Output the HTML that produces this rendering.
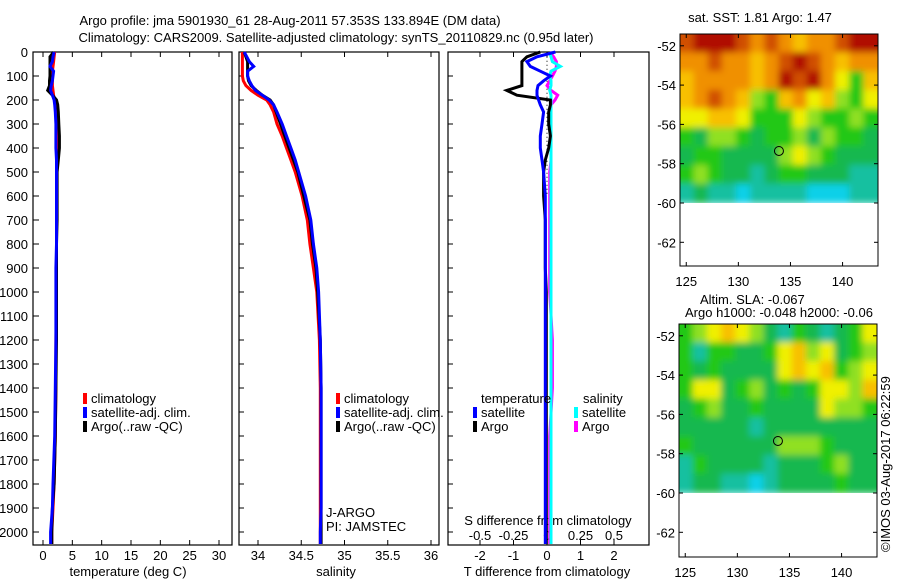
<!DOCTYPE html>
<html><head><meta charset="utf-8"><style>
body{margin:0;background:#fff;width:900px;height:580px;overflow:hidden}
svg text{font-family:"Liberation Sans",sans-serif;font-size:13px;fill:#000}
</style></head><body>
<svg id="c" width="900" height="580" xmlns="http://www.w3.org/2000/svg">
<defs>
<filter id="bl" filterUnits="userSpaceOnUse" x="670" y="20" width="220" height="540"><feGaussianBlur stdDeviation="3.5"/></filter>
<clipPath id="cp1"><rect x="680" y="34" width="198" height="169"/></clipPath>
<clipPath id="cp2"><rect x="679" y="324" width="198" height="169"/></clipPath>
</defs>
<text x="290" y="25" text-anchor="middle">Argo profile: jma 5901930_61 28-Aug-2011 57.353S 133.894E (DM data)</text>
<text x="336" y="42" text-anchor="middle">Climatology: CARS2009. Satellite-adjusted climatology: synTS_20110829.nc (0.95d later)</text>
</svg>
<script>
// ---- data ----
const depths=[0,20,40,60,80,100,120,140,160,180,200,220,250,300,350,400,450,500,600,700,800,900,1000,1200,1400,1600,1800,1900,2000,2050];
const tempClim=[2.0,1.9,1.8,1.7,1.6,1.6,1.6,1.6,1.7,1.8,2.0,2.2,2.3,2.3,2.3,2.3,2.3,2.3,2.3,2.3,2.3,2.3,2.3,2.2,2.2,2.1,1.9,1.7,1.5,1.5];
const tempSat=[1.9,1.7,1.6,1.2,1.8,1.7,1.6,1.4,1.3,1.6,1.9,2.0,2.1,2.2,2.2,2.2,2.3,2.3,2.3,2.3,2.3,2.2,2.2,2.2,2.1,2.0,1.7,1.6,1.3,1.3];
const tempArgo=[1.8,1.2,1.2,1.2,1.2,1.2,1.1,1.1,0.8,1.6,2.3,2.5,2.6,2.7,2.8,2.8,2.6,2.4,2.4,2.4,2.3,2.3,2.3,2.3,2.2,2.1,1.9,1.6,1.5,1.5];
const salClim=[33.82,33.82,33.82,33.82,33.82,33.82,33.83,33.86,33.92,34.0,34.1,34.14,34.18,34.22,34.28,34.33,34.38,34.43,34.51,34.57,34.6,34.64,34.68,34.71,34.72,34.72,34.72,34.72,34.72,34.72];
const salSat=[33.84,33.87,33.9,33.95,33.88,33.88,33.9,33.93,33.97,34.05,34.13,34.18,34.22,34.28,34.33,34.38,34.43,34.47,34.55,34.61,34.64,34.68,34.7,34.72,34.73,34.73,34.73,34.73,34.72,34.72];
const salArgo=[33.84,33.86,33.88,33.88,33.88,33.88,33.89,33.92,33.98,34.05,34.14,34.18,34.21,34.26,34.31,34.36,34.41,34.46,34.53,34.6,34.63,34.67,34.69,34.72,34.73,34.73,34.73,34.73,34.73,34.73];
const dTSat=[0.25,-0.3,-0.6,-0.5,-0.2,0.1,-0.1,-0.27,-0.3,-0.3,-0.25,-0.2,-0.1,-0.15,-0.2,-0.2,-0.15,-0.1,-0.05,-0.05,-0.05,-0.05,-0.05,-0.05,-0.05,-0.05,-0.05,-0.05,-0.05,-0.05];
const dTArgo=[-0.2,-0.6,-0.75,-0.75,-0.75,-0.75,-0.75,-0.75,-1.2,-0.9,0.1,0.1,0.05,0.05,0.1,0.05,-0.05,-0.1,-0.1,-0.05,-0.05,-0.05,-0.02,-0.02,-0.02,-0.02,-0.02,-0.02,-0.02,-0.02];
const dSSat=[0.02,0.03,0.04,0.1,0.03,0.02,0.03,0.03,0.02,0.03,0.03,0.03,0.03,0.03,0.03,0.03,0.03,0.03,0.03,0.03,0.03,0.03,0.03,0.03,0.03,0.03,0.03,0.03,0.03,0.03];
const dSArgo=[0.02,0.05,0.07,0.07,0.06,0.04,0.02,0.0,0.03,0.08,0.06,0.03,0.02,0.03,0.03,0.03,0.03,0.02,0.02,0.02,0.02,0.02,0.02,0.04,0.04,0.02,0.02,0.02,0.02,0.02];
const depthTicks=[0,100,200,300,400,500,600,700,800,900,1000,1100,1200,1300,1400,1500,1600,1700,1800,1900,2000];
const tempTicks=[0,5,10,15,20,25,30];
const salTicks=[34,34.5,35,35.5,36];
const dTTicks=[-2,-1,0,1,2];
const dSTicks=[-0.5,-0.25,0,0.25,0.5];
const sstGrid=[
[8,9,9,9,8,7,8,7,6,7,7,8,9,9],
[7,7,8,7,7,6,7,8,9,8,7,6,7,7],
[6,7,7,7,7,6,7,9,8,9,7,5,3,6],
[6,7,8,7,6,4,3,6,7,5,6,4,3,5],
[5,5,6,6,5,3,3,3,5,4,3,3,4,3],
[3,2,4,4,3,2,3,3,4,2,4,3,3,2],
[2,3,3,2,2,2,2,4,5,4,3,2,2,2],
[3,4,3,2,2,1,2,3,3,2,2,2,1,1],
[1,2,1,1,0,1,1,1,1,0,0,0,1,1]];
const slaGrid=[
[3,4,5,6,5,4,2,1,3,2,1,2,3,5],
[3,1,3,3,2,2,3,5,6,4,5,2,3,4],
[3,2,3,2,2,2,2,5,6,5,6,3,4,5],
[3,5,5,2,3,4,2,3,2,3,5,5,4,6],
[2,3,4,2,2,3,2,2,2,2,5,4,4,3],
[2,2,2,2,2,1,2,2,2,2,2,2,2,2],
[3,2,2,2,2,2,2,4,4,4,3,2,2,2],
[1,3,2,2,2,2,1,2,2,2,3,4,2,2],
[1,2,2,1,1,0,1,2,2,2,2,3,2,2]];
const lonTicks=[125,130,135,140];
const latTicks=[-52,-54,-56,-58,-60,-62];
const argoLon=133.894, argoLat=-57.353;
const cmap=['#10d0e8','#18c0a0','#18b850','#20c818','#90e020','#f0f000','#f8c000','#f09000','#d05000','#b01000'];

// ---- drawing ----
const S=document.getElementById('c');const NS='http://www.w3.org/2000/svg';
function el(t,a,p){const e=document.createElementNS(NS,t);for(const k in a)e.setAttribute(k,a[k]);(p||S).appendChild(e);return e;}
function txt(x,y,s,anchor,p){const e=el('text',{x:x,y:y,'text-anchor':anchor||'start'},p);e.textContent=s;return e;}
const Y0=52,Y1=545;
const yD=d=>Y0+d*0.24;
function lin(d0,d1,r0,r1){return v=>r0+(v-d0)/(d1-d0)*(r1-r0);}

function panel(name,x0,x1){
  const g=el('g',{});
  
  
  el('rect',{x:x0,y:Y0,width:x1-x0,height:Y1-Y0,fill:'none',stroke:'#000','stroke-width':1.2},g);
  return g;
}
function series(g,xs,vals,color,name,w){
  const pts=vals.map((v,i)=>xs(v).toFixed(1)+','+yD(depths[i]).toFixed(1)).join(' ');
  const p=el('polyline',{points:pts,fill:'none',stroke:color,'stroke-width':w||3},g);
  
  
}
function legend(g,x,y,items){
  items.forEach((it,i)=>{
    const r=el('rect',{x:x,y:y+i*14-10,width:4,height:11,fill:it[0]},g);
    
    
    const t=txt(x+8,y+i*14,it[1],'start',g);
    
    
  });
}
// panel 1 temperature
const xT=lin(0,30,43,219);
const g1=panel('temperature-panel',33,232);
depthTicks.forEach(d=>{el('line',{x1:33,x2:39,y1:yD(d),y2:yD(d),stroke:'#000'},g1);const t=txt(28,yD(d)+5,String(d),'end',g1);});
tempTicks.forEach(v=>{el('line',{x1:xT(v),x2:xT(v),y1:Y1,y2:Y1-5,stroke:'#000'},g1);el('line',{x1:xT(v),x2:xT(v),y1:Y0,y2:Y0+5,stroke:'#000'},g1);txt(xT(v),560,String(v),'middle',g1);});
txt(128,576,'temperature (deg C)','middle',g1);
series(g1,xT,tempClim,'#ff0000','temp-climatology-line');
series(g1,xT,tempArgo,'#000','temp-argo-line');
series(g1,xT,tempSat,'#0000ff','temp-satellite-line');
legend(g1,83,403,[['#ff0000','climatology'],['#0000ff','satellite-adj. clim.'],['#000','Argo(..raw -QC)']]);
// panel 2 salinity
const xS=lin(34,36,258,431);
const g2=panel('salinity-panel',239,439);
depthTicks.forEach(d=>{el('line',{x1:239,x2:244,y1:yD(d),y2:yD(d),stroke:'#000'},g2);});
salTicks.forEach(v=>{el('line',{x1:xS(v),x2:xS(v),y1:Y1,y2:Y1-5,stroke:'#000'},g2);el('line',{x1:xS(v),x2:xS(v),y1:Y0,y2:Y0+5,stroke:'#000'},g2);txt(xS(v),560,String(v),'middle',g2);});
txt(336,576,'salinity','middle',g2);
series(g2,xS,salClim,'#ff0000','sal-climatology-line');
series(g2,xS,salArgo,'#000','sal-argo-line');
series(g2,xS,salSat,'#0000ff','sal-satellite-line');
legend(g2,336,403,[['#ff0000','climatology'],['#0000ff','satellite-adj. clim.'],['#000','Argo(..raw -QC)']]);
txt(326,517,'J-ARGO','start',g2);
txt(326,531,'PI: JAMSTEC','start',g2);
// panel 3 differences
const xdT=lin(-2,2,480,614), xdS=lin(-0.5,0.5,480,614);
const g3=panel('difference-panel',448,649);
depthTicks.forEach(d=>{el('line',{x1:448,x2:453,y1:yD(d),y2:yD(d),stroke:'#000'},g3);});
dTTicks.forEach(v=>{el('line',{x1:xdT(v),x2:xdT(v),y1:Y1,y2:Y1-5,stroke:'#000'},g3);el('line',{x1:xdT(v),x2:xdT(v),y1:Y0,y2:Y0+5,stroke:'#000'},g3);txt(xdT(v),560,String(v),'middle',g3);});
dSTicks.forEach(v=>{txt(xdS(v),540,String(v),'middle',g3);});
txt(548,525,'S difference from climatology','middle',g3);
txt(547,576,'T difference from climatology','middle',g3);
el('line',{x1:xdT(0),x2:xdT(0),y1:yD(20),y2:yD(600),stroke:'#000','stroke-dasharray':'1,3'},g3);
series(g3,xdS,dSArgo,'#ff00ff','s-diff-argo-line');
series(g3,xdS,dSSat,'#00ffff','s-diff-satellite-line');
series(g3,xdT,dTArgo,'#000','t-diff-argo-line');
series(g3,xdT,dTSat,'#0000ff','t-diff-satellite-line');
txt(481,403,'temperature','start',g3);
txt(583,403,'salinity','start',g3);
legend(g3,473,417,[['#0000ff','satellite'],['#000','Argo']]);
legend(g3,574,417,[['#00ffff','satellite'],['#ff00ff','Argo']]);
// maps
function map(name,x0,x1,yTop,y60,yBot,grid,cp){
  const g=el('g',{});
  
  
  const xL=lin(124.4,143.4,x0,x1);
  const yL=lin(-60,-62,y60,y60+(y60-yTop)/8.6*2);
  const hg=el('g',{'clip-path':'url(#'+cp+')'},g);
  const inner=el('g',{filter:'url(#bl)'},hg);
  const nr=grid.length,nc=grid[0].length;
  grid.forEach((row,r)=>row.forEach((v,c)=>{
    const cx0=xL(124.4+c*19/nc), cx1=xL(124.4+(c+1)*19/nc);
    const cy0=yTop+(y60-yTop)*r/nr, cy1=yTop+(y60-yTop)*(r+1)/nr;
    const ex=(c===0?8:0), ex2=(c===nc-1?8:0), ey=(r===0?8:0);
    const cell=el('rect',{x:cx0-0.5-ex,y:cy0-0.5-ey,width:cx1-cx0+1+ex+ex2,height:cy1-cy0+1+ey,fill:cmap[v]},inner);
    
    
  }));
  el('rect',{x:x0,y:yTop,width:x1-x0,height:yBot-yTop,fill:'none',stroke:'#000'},g);
  lonTicks.forEach(v=>{el('line',{x1:xL(v),x2:xL(v),y1:yBot,y2:yBot-4,stroke:'#000'},g);el('line',{x1:xL(v),x2:xL(v),y1:yTop,y2:yTop+4,stroke:'#000'},g);txt(xL(v),yBot+20,String(v),'middle',g);});
  latTicks.forEach(v=>{el('line',{x1:x0,x2:x0+4,y1:yL(v),y2:yL(v),stroke:'#000'},g);el('line',{x1:x1,x2:x1-4,y1:yL(v),y2:yL(v),stroke:'#000'},g);txt(x0-4,yL(v)+5,String(v),'end',g);});
  const m=el('circle',{cx:xL(argoLon),cy:yL(argoLat),r:4.5,fill:'none',stroke:'#000'},g);
  
  
}
map('sst-map',680,878,34,203,266,sstGrid,'cp1');
map('sla-map',679,877,324,493,557,slaGrid,'cp2');
txt(760,22,'sat. SST: 1.81  Argo: 1.47','middle');
txt(700,304,'Altim. SLA: -0.067','start');
txt(685,317,'Argo h1000: -0.048 h2000: -0.06','start');
const cr=txt(0,0,'©IMOS 03-Aug-2017 06:22:59','start');
cr.setAttribute('transform','translate(890,552) rotate(-90)');


</script>
</body></html>
